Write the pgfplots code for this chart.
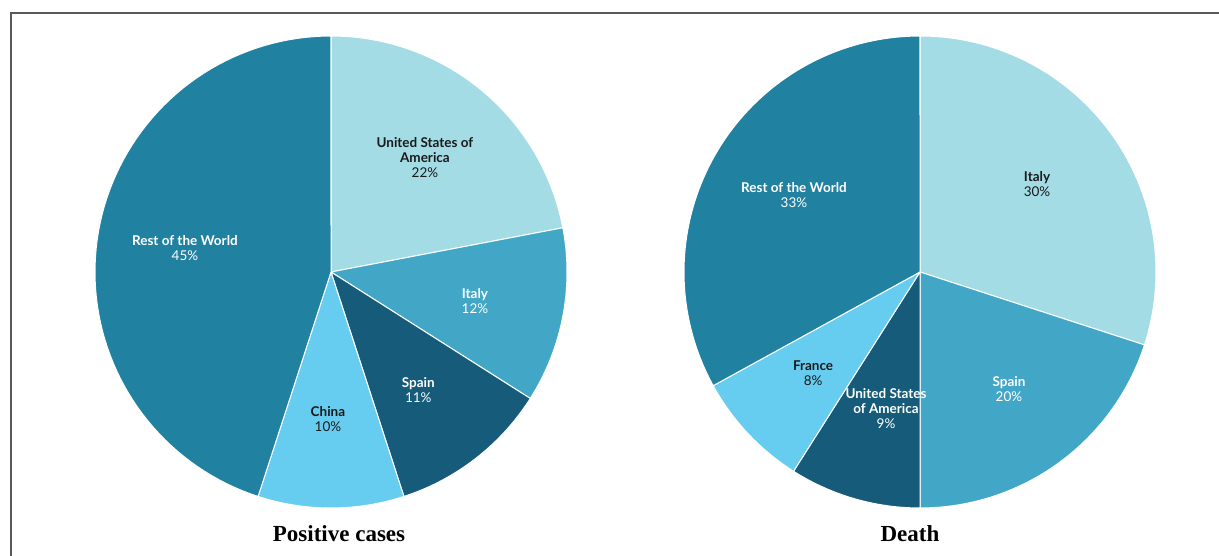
\documentclass[border=0pt]{standalone}
\usepackage{pgfplots}
\pgfplotsset{compat=1.18}
\usepackage{fontspec}
\setmainfont{Liberation Serif}
\newfontfamily\lab{Lato}
\definecolor{cLight}{HTML}{A4DCE6}
\definecolor{cMid}{HTML}{42A7C7}
\definecolor{cDark}{HTML}{165B7A}
\definecolor{cSky}{HTML}{66CDF0}
\definecolor{cRest}{HTML}{2181A1}
\definecolor{cTxt}{HTML}{1A1A1A}
\pgfplotsset{
  pie/.style={width=472pt, height=472pt, scale only axis, anchor=center,
    xmin=-1, xmax=1, ymin=-1, ymax=1, hide axis, clip=false,
    samples=80, variable=\t},
  slice/.style={fill=#1, draw=white, line width=1pt},
}
\tikzset{lbl/.style={font=\lab\fontsize{13.5}{15}\selectfont, align=center, text=#1}}
\begin{document}
\begin{tikzpicture}
\path[use as bounding box] (0pt,0pt) rectangle (1219pt,556pt);
\draw[black!65, line width=1.3pt] (11pt,0pt) -- (11pt,543pt) -- (1219pt,543pt);
% Positive cases: USA 22, Italy 12, Spain 11, China 10, Rest 45
\begin{axis}[pie, at={(331pt,284pt)}]
\addplot[slice=cLight, domain=0:22]  ({cos(90-3.6*\t)},{sin(90-3.6*\t)}) -- (axis cs:0,0) -- cycle;
\addplot[slice=cMid,   domain=22:34] ({cos(90-3.6*\t)},{sin(90-3.6*\t)}) -- (axis cs:0,0) -- cycle;
\addplot[slice=cDark,  domain=34:45] ({cos(90-3.6*\t)},{sin(90-3.6*\t)}) -- (axis cs:0,0) -- cycle;
\addplot[slice=cSky,   domain=45:55] ({cos(90-3.6*\t)},{sin(90-3.6*\t)}) -- (axis cs:0,0) -- cycle;
\addplot[slice=cRest,  domain=55:100] ({cos(90-3.6*\t)},{sin(90-3.6*\t)}) -- (axis cs:0,0) -- cycle;
\node[lbl=cTxt]  at (axis cs:0.398,0.483) {\textbf{United States of}\\\textbf{America}\\22\%};
\node[lbl=white] at (axis cs:0.61,-0.125) {\textbf{Italy}\\12\%};
\node[lbl=white] at (axis cs:0.37,-0.50) {\textbf{Spain}\\11\%};
\node[lbl=cTxt]  at (axis cs:-0.013,-0.625) {\textbf{China}\\10\%};
\node[lbl=white] at (axis cs:-0.619,0.10) {\textbf{Rest of the World}\\45\%};
\end{axis}
% Death: Italy 30, Spain 20, USA 9, France 8, Rest 33
\begin{axis}[pie, at={(920pt,284pt)}]
\addplot[slice=cLight, domain=0:30]  ({cos(90-3.6*\t)},{sin(90-3.6*\t)}) -- (axis cs:0,0) -- cycle;
\addplot[slice=cMid,   domain=30:50] ({cos(90-3.6*\t)},{sin(90-3.6*\t)}) -- (axis cs:0,0) -- cycle;
\addplot[slice=cDark,  domain=50:59] ({cos(90-3.6*\t)},{sin(90-3.6*\t)}) -- (axis cs:0,0) -- cycle;
\addplot[slice=cSky,   domain=59:67] ({cos(90-3.6*\t)},{sin(90-3.6*\t)}) -- (axis cs:0,0) -- cycle;
\addplot[slice=cRest,  domain=67:100] ({cos(90-3.6*\t)},{sin(90-3.6*\t)}) -- (axis cs:0,0) -- cycle;
\node[lbl=cTxt]  at (axis cs:0.496,0.373) {\textbf{Italy}\\30\%};
\node[lbl=white] at (axis cs:0.377,-0.498) {\textbf{Spain}\\20\%};
\node[lbl=white] at (axis cs:-0.144,-0.58) {\textbf{United States}\\\textbf{of America}\\9\%};
\node[lbl=cTxt]  at (axis cs:-0.453,-0.43) {\textbf{France}\\8\%};
\node[lbl=white] at (axis cs:-0.534,0.326) {\textbf{Rest of the World}\\33\%};
\end{axis}
\node[font=\bfseries\fontsize{23}{26}\selectfont] at (339pt,22pt) {Positive cases};
\node[font=\bfseries\fontsize{23}{26}\selectfont] at (910pt,22pt) {Death};
\end{tikzpicture}
\end{document}
